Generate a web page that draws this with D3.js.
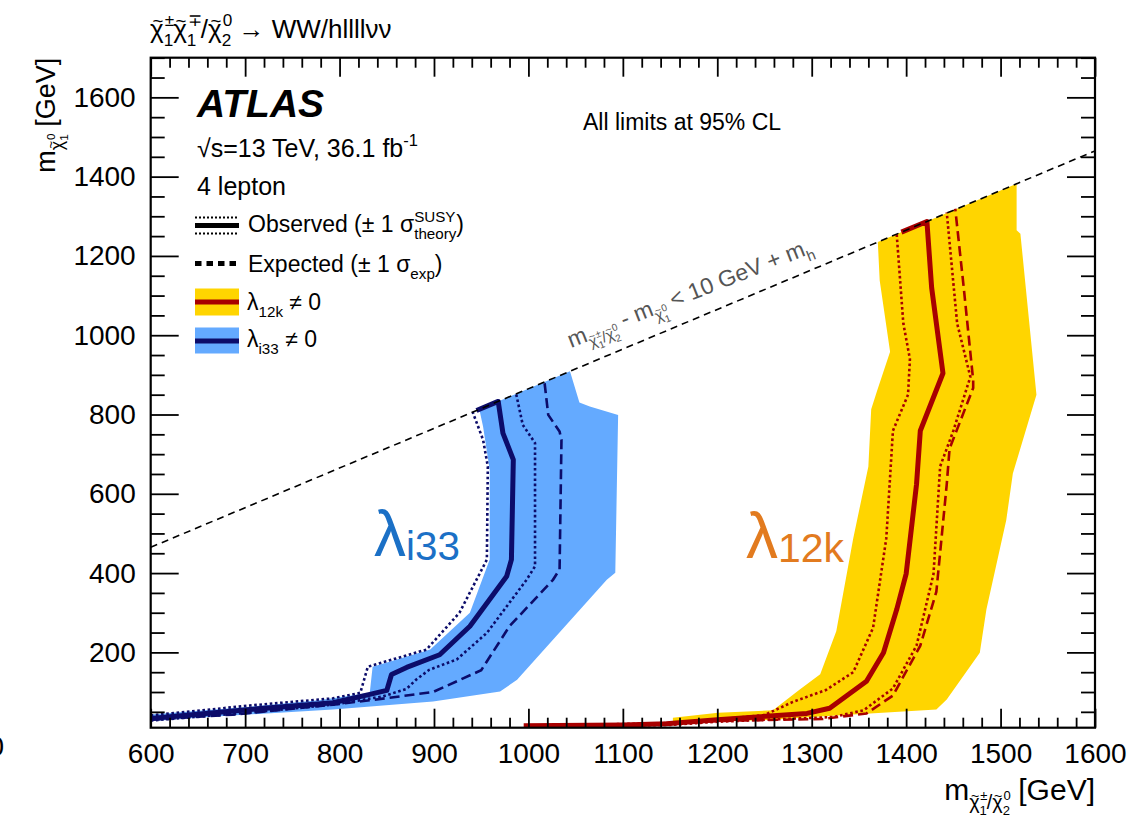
<!DOCTYPE html>
<html>
<head>
<meta charset="utf-8">
<script src="https://cdn.jsdelivr.net/npm/d3@7"></script>
<style>
  html, body { margin: 0; padding: 0; background: #fff; }
  svg text { font-family: "Liberation Sans", Arial, Helvetica, sans-serif; white-space: pre; }
</style>
</head>
<body>
<svg id="chart" width="1135" height="819"></svg>
<script>
// ---------------------------------------------------------------------------
// Axis definitions (GeV)
// ---------------------------------------------------------------------------
const xDomain = [600, 1600];
const yDomain = [10, 1700];
const xMajorTicks = [600, 700, 800, 900, 1000, 1100, 1200, 1300, 1400, 1500, 1600];
const yMajorTicks = [200, 400, 600, 800, 1000, 1200, 1400, 1600];
const xMinorStep = 20;
const yMinorStep = 50;

// Kinematic boundary: m(chi1+/chi2) - m(chi1^0) = 10 GeV + m_h
const kinematicLimit = [[600, 465], [1600, 1465]];

// ---------------------------------------------------------------------------
// lambda_i33 != 0 exclusion contours  [m(chi1+/chi2) , m(chi1^0)]
// ---------------------------------------------------------------------------
const i33ExpectedBand = [
  [600, 43], [705, 63], [780, 80], [832, 98], [835, 164], [896, 207], [938, 300],
  [959, 434], [959, 660], [952, 769], [948, 813], [1044, 909], [1054, 830],
  [1065, 820], [1095, 799], [1092, 401], [1083, 383], [988, 131], [970, 101],
  [899, 76], [793, 56], [652, 36], [600, 26]
];
const i33Observed = [
  [600, 33], [705, 56], [793, 73], [832, 94], [850, 104], [855, 144], [871, 162],
  [906, 194], [938, 266], [977, 392], [982, 434], [984, 686], [973, 753],
  [968, 833], [945, 810]
];
const i33ObservedMinus = [
  [600, 41], [705, 66], [793, 84], [822, 98], [830, 164], [892, 207], [927, 300],
  [956, 434], [957, 669], [952, 736], [941, 806]
];
const i33ObservedPlus = [
  [600, 28], [705, 48], [793, 68], [846, 89], [871, 108], [881, 131], [895, 156],
  [924, 182], [956, 249], [998, 383], [1007, 417], [1007, 728], [994, 774], [987, 852]
];
const i33Expected = [
  [600, 30], [687, 43], [793, 68], [835, 80], [899, 100], [950, 155], [980, 266],
  [1026, 383], [1033, 409], [1035, 736], [1033, 757], [1021, 799], [1017, 882]
];

// ---------------------------------------------------------------------------
// lambda_12k != 0 exclusion contours
// ---------------------------------------------------------------------------
const l12kExpectedBand = [
  [1153, 35], [1201, 48], [1259, 54], [1287, 106], [1309, 145], [1326, 253],
  [1344, 488], [1360, 669], [1363, 813], [1369, 858], [1383, 958], [1372, 1138],
  [1370, 1235], [1517, 1382], [1517, 1265], [1521, 1256], [1538, 850], [1513, 651],
  [1506, 533], [1485, 308], [1478, 199], [1443, 81], [1432, 56], [1309, 38],
  [1259, 30], [1200, 25], [1153, 21]
];
const l12kObserved = [
  [995, 15], [1100, 17], [1146, 20], [1200, 30], [1295, 46], [1319, 59], [1358, 127],
  [1376, 199], [1390, 308], [1400, 398], [1411, 624], [1415, 759], [1439, 904],
  [1427, 1120], [1422, 1287], [1395, 1260]
];
const l12kObservedMinus = [
  [1000, 14], [1150, 22], [1200, 30], [1250, 42], [1280, 75], [1315, 105], [1344, 150],
  [1365, 262], [1379, 488], [1386, 759], [1402, 850], [1404, 940], [1397, 1030], [1390, 1255]
];
const l12kObservedPlus = [
  [1000, 12], [1150, 17], [1200, 25], [1323, 37], [1355, 54], [1386, 109], [1411, 217],
  [1429, 398], [1436, 669], [1450, 759], [1468, 895], [1454, 1030], [1443, 1310]
];
const l12kExpected = [
  [1000, 12], [1100, 16], [1200, 27], [1312, 32], [1358, 46], [1386, 91], [1415, 217],
  [1432, 353], [1443, 624], [1446, 714], [1471, 867], [1471, 886], [1461, 1120], [1452, 1319]
];

// ---------------------------------------------------------------------------
// Colours
// ---------------------------------------------------------------------------
const colors = {
  i33Band: "#64aaff",
  i33Line: "#0c0c6a",
  i33Label: "#1b70c6",
  l12kBand: "#ffd500",
  l12kLine: "#a80000",
  l12kLabel: "#e27b1f"
};

// ---------------------------------------------------------------------------
// Layout
// ---------------------------------------------------------------------------
const frame = { left: 150.7, right: 1095, top: 57.7, bottom: 727.7 };
const svg = d3.select("#chart");

const x = d3.scaleLinear().domain(xDomain).range([frame.left, frame.right]);
const y = d3.scaleLinear().domain(yDomain).range([frame.bottom, frame.top]);

// Rich text: pieces are strings or {t, tilde, sub, sup, scale, dy}
const scriptScale = 0.66;
function renderPieces(g, pieces, x0, y0, size) {
  let cx = x0;
  for (let p of pieces) {
    if (typeof p === "string") p = { t: p };
    const s = size * (p.scale || 1);
    const by = y0 + (p.dy || 0) * size;
    if (p.t) {
      const el = g.append("text").attr("x", cx).attr("y", by)
        .attr("font-size", s).text(p.t);
      const w = el.node().getComputedTextLength();
      if (p.tilde) {
        g.append("text").attr("x", cx + w / 2 + s * 0.04).attr("y", by - s * 0.43)
          .attr("text-anchor", "middle").attr("font-size", s * 0.72).text("~");
      }
      cx += w;
    }
    let ws = 0, wp = 0;
    if (p.sub) {
      const subs = Array.isArray(p.sub) ? p.sub : [p.sub];
      ws = renderPieces(g, subs, cx, by + 0.3 * s, s * scriptScale);
    }
    if (p.sup) {
      const sups = Array.isArray(p.sup) ? p.sup : [p.sup];
      wp = renderPieces(g, sups, cx + (p.tilde ? s * 0.04 : 0), by - 0.45 * s, s * scriptScale);
    }
    cx += Math.max(ws, wp);
  }
  return cx - x0;
}

function richText(parent, pieces, opt) {
  const outer = parent.append("g")
    .attr("transform", `translate(${opt.x},${opt.y}) rotate(${opt.rotate || 0})`)
    .attr("fill", opt.fill || "#000");
  if (opt.weight) outer.attr("font-weight", opt.weight);
  if (opt.style) outer.attr("font-style", opt.style);
  const inner = outer.append("g");
  const w = renderPieces(inner, pieces, 0, 0, opt.size);
  if (opt.anchor === "end") inner.attr("transform", `translate(${-w},0)`);
  if (opt.anchor === "middle") inner.attr("transform", `translate(${-w / 2},0)`);
  return outer;
}

const chi = (sub, sup) => ({ t: "χ", tilde: true, sub: sub, sup: sup });

// ---------------------------------------------------------------------------
// Plot area
// ---------------------------------------------------------------------------
svg.append("defs").append("clipPath").attr("id", "plot-clip")
  .append("rect")
  .attr("x", frame.left).attr("y", frame.top)
  .attr("width", frame.right - frame.left).attr("height", frame.bottom - frame.top);

const plot = svg.append("g").attr("clip-path", "url(#plot-clip)");
const line = d3.line().x(d => x(d[0])).y(d => y(d[1]));
const area = d3.line().x(d => x(d[0])).y(d => y(d[1])).curve(d3.curveLinearClosed);

// Expected +-1 sigma bands
plot.append("path").attr("d", area(i33ExpectedBand)).attr("fill", colors.i33Band);
plot.append("path").attr("d", area(l12kExpectedBand)).attr("fill", colors.l12kBand);

function drawContours(obs, obsMinus, obsPlus, exp, col) {
  plot.append("path").attr("d", line(exp)).attr("fill", "none")
    .attr("stroke", col).attr("stroke-width", 2.6).attr("stroke-dasharray", "10 5");
  [obsMinus, obsPlus].forEach(c => {
    plot.append("path").attr("d", line(c)).attr("fill", "none")
      .attr("stroke", col).attr("stroke-width", 2.6).attr("stroke-dasharray", "2.6 2.6");
  });
  plot.append("path").attr("d", line(obs)).attr("fill", "none")
    .attr("stroke", col).attr("stroke-width", 5).attr("stroke-linejoin", "round");
}
drawContours(i33Observed, i33ObservedMinus, i33ObservedPlus, i33Expected, colors.i33Line);
drawContours(l12kObserved, l12kObservedMinus, l12kObservedPlus, l12kExpected, colors.l12kLine);

// Kinematic boundary
plot.append("path").attr("d", line(kinematicLimit)).attr("fill", "none")
  .attr("stroke", "#000").attr("stroke-width", 1.6).attr("stroke-dasharray", "7 5");

// ---------------------------------------------------------------------------
// Axes
// ---------------------------------------------------------------------------
const xMinor = d3.range(xDomain[0], xDomain[1] + 1, xMinorStep).filter(v => !xMajorTicks.includes(v));
const yMinor = d3.range(50, yDomain[1] + 1, yMinorStep).filter(v => !yMajorTicks.includes(v));

function styleAxis(g) {
  g.select(".domain").remove();
  g.selectAll(".tick line").attr("stroke", "#000").attr("stroke-width", 1.8);
  g.selectAll(".tick text").attr("font-size", 28).attr("fill", "#000")
    .attr("font-family", '"Liberation Sans", Arial, Helvetica, sans-serif');
}

svg.append("g").attr("transform", `translate(0,${frame.bottom})`)
  .call(d3.axisBottom(x).tickValues(xMajorTicks).tickSize(-19).tickPadding(15).tickFormat(d3.format("d")))
  .call(styleAxis);
svg.append("g").attr("transform", `translate(0,${frame.bottom})`)
  .call(d3.axisBottom(x).tickValues(xMinor).tickSize(-10).tickFormat(""))
  .call(styleAxis);
svg.append("g").attr("transform", `translate(0,${frame.top})`)
  .call(d3.axisTop(x).tickValues(xMajorTicks).tickSize(-19).tickFormat(""))
  .call(styleAxis);
svg.append("g").attr("transform", `translate(0,${frame.top})`)
  .call(d3.axisTop(x).tickValues(xMinor).tickSize(-10).tickFormat(""))
  .call(styleAxis);

svg.append("g").attr("transform", `translate(${frame.left},0)`)
  .call(d3.axisLeft(y).tickValues(yMajorTicks).tickSize(-28).tickPadding(15).tickFormat(d3.format("d")))
  .call(styleAxis);
svg.append("g").attr("transform", `translate(${frame.left},0)`)
  .call(d3.axisLeft(y).tickValues(yMinor).tickSize(-14).tickFormat(""))
  .call(styleAxis);
svg.append("g").attr("transform", `translate(${frame.right},0)`)
  .call(d3.axisRight(y).tickValues(yMajorTicks).tickSize(-28).tickFormat(""))
  .call(styleAxis);
svg.append("g").attr("transform", `translate(${frame.right},0)`)
  .call(d3.axisRight(y).tickValues(yMinor).tickSize(-14).tickFormat(""))
  .call(styleAxis);

svg.append("rect")
  .attr("x", frame.left).attr("y", frame.top)
  .attr("width", frame.right - frame.left).attr("height", frame.bottom - frame.top)
  .attr("fill", "none").attr("stroke", "#000").attr("stroke-width", 2.2);

// stray label at the lower-left page edge
svg.append("text").attr("x", 4).attr("y", 756).attr("text-anchor", "end")
  .attr("font-size", 28).text("0");

// Axis titles
richText(svg, ["m", { sub: [chi("1", "±"), "/", chi("2", "0")] }, " [GeV]"],
  { x: frame.right, y: 800, size: 30, anchor: "end" });
richText(svg, ["m", { sub: [chi("1", "0")] }, " [GeV]"],
  { x: 55, y: frame.top, size: 27, anchor: "end", rotate: -90 });

// Process title
richText(svg, [chi("1", "±"), chi("1", "∓"), "/", chi("2", "0"), " → WW/hllllνν"],
  { x: 150, y: 38, size: 26 });

// ---------------------------------------------------------------------------
// Labels inside the frame
// ---------------------------------------------------------------------------
richText(svg, ["ATLAS"], { x: 197, y: 117, size: 39, weight: "bold", style: "italic" });
richText(svg, ["√s=13 TeV, 36.1 fb", { sup: "-1" }], { x: 197, y: 157, size: 25 });
richText(svg, ["4 lepton"], { x: 197, y: 195, size: 25 });
richText(svg, ["All limits at 95% CL"], { x: 583, y: 130, size: 23 });

// Legend
const legX0 = 195, legX1 = 239;
const leg = svg.append("g");
leg.append("line").attr("x1", legX0).attr("x2", legX1).attr("y1", 225.5).attr("y2", 225.5)
  .attr("stroke", "#000").attr("stroke-width", 5);
[217.5, 233.5].forEach(yy => leg.append("line")
  .attr("x1", legX0).attr("x2", legX1).attr("y1", yy).attr("y2", yy)
  .attr("stroke", "#000").attr("stroke-width", 2).attr("stroke-dasharray", "2 2"));
leg.append("line").attr("x1", legX0).attr("x2", legX1).attr("y1", 263.5).attr("y2", 263.5)
  .attr("stroke", "#000").attr("stroke-width", 5).attr("stroke-dasharray", "6.5 5");
leg.append("rect").attr("x", legX0).attr("y", 288.5).attr("width", legX1 - legX0).attr("height", 27)
  .attr("fill", colors.l12kBand);
leg.append("line").attr("x1", legX0).attr("x2", legX1).attr("y1", 302).attr("y2", 302)
  .attr("stroke", colors.l12kLine).attr("stroke-width", 5);
leg.append("rect").attr("x", legX0).attr("y", 327.5).attr("width", legX1 - legX0).attr("height", 26)
  .attr("fill", colors.i33Band);
leg.append("line").attr("x1", legX0).attr("x2", legX1).attr("y1", 341).attr("y2", 341)
  .attr("stroke", colors.i33Line).attr("stroke-width", 5);

richText(svg, ["Observed (± 1 ", { t: "σ", sup: "SUSY", sub: "theory" }, ")"],
  { x: 248, y: 232, size: 23 });
richText(svg, ["Expected (± 1 ", { t: "σ", sub: "exp" }, ")"], { x: 248, y: 272, size: 23 });
richText(svg, [{ t: "λ", sub: "12k" }, " ≠ 0"], { x: 247, y: 310, size: 23 });
richText(svg, [{ t: "λ", sub: "i33" }, " ≠ 0"], { x: 247, y: 347, size: 23 });

// Region labels
richText(svg, [{ t: "λ" }, { t: "i33", scale: 0.63, dy: 0.06 }],
  { x: 374, y: 556, size: 64, fill: colors.i33Label });
richText(svg, [{ t: "λ" }, { t: "12k", scale: 0.64, dy: 0.06 }],
  { x: 746, y: 558, size: 64, fill: colors.l12kLabel });

// Kinematic boundary label
richText(svg, ["m", { sub: [chi("1", "±"), "/", chi("2", "0")] }, " - m", { sub: [chi("1", "0")] },
  " < 10 GeV + m", { sub: "h" }],
  { x: 571, y: 348, size: 23, rotate: -21.5, fill: "#555" });
</script>
</body>
</html>
